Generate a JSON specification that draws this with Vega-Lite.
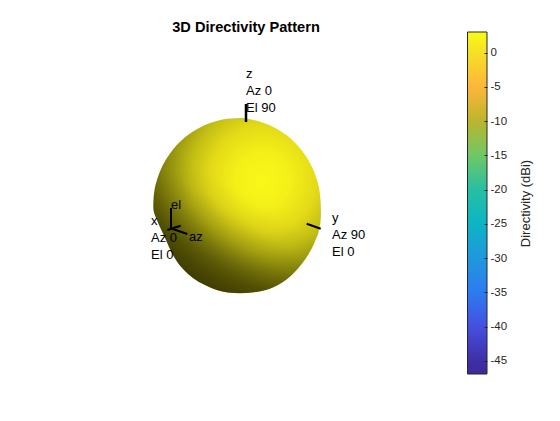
{
"$schema":"https://vega.github.io/schema/vega-lite/v6.json",
"width":560,"height":421,"padding":0,"autosize":"none",
"background":"white",
"title":{"text":"3D Directivity Pattern","font":"Liberation Sans","fontSize":14.6,"fontWeight":"bold","color":"#000000","anchor":"middle","dx":-34,"dy":35,"orient":"top","offset":0},
"config":{"view":{"stroke":null}},
"datasets":{
"outline":[
{"X":-0.837,"top":0.008,"bottom":-0.012},{"X":-0.835,"top":0.06,"bottom":-0.04},{"X":-0.825,"top":0.15,"bottom":-0.08},{"X":-0.803,"top":0.247,"bottom":-0.135},{"X":-0.77,"top":0.343,"bottom":-0.212},{"X":-0.71,"top":0.463,"bottom":-0.342},{"X":-0.67,"top":0.524,"bottom":-0.432},{"X":-0.603,"top":0.607,"bottom":-0.552},{"X":-0.52,"top":0.686,"bottom":-0.652},{"X":-0.44,"top":0.744,"bottom":-0.722},{"X":-0.32,"top":0.808,"bottom":-0.792},{"X":-0.203,"top":0.849,"bottom":-0.842},{"X":-0.09,"top":0.87,"bottom":-0.867},{"X":0.03,"top":0.875,"bottom":-0.875},{"X":0.15,"top":0.861,"bottom":-0.867},{"X":0.247,"top":0.836,"bottom":-0.852},{"X":0.41,"top":0.763,"bottom":-0.792},{"X":0.58,"top":0.631,"bottom":-0.659},{"X":0.71,"top":0.463,"bottom":-0.492},{"X":0.76,"top":0.367,"bottom":-0.402},{"X":0.79,"top":0.289,"bottom":-0.33},{"X":0.815,"top":0.2,"bottom":-0.265},{"X":0.828,"top":0.125,"bottom":-0.2},{"X":0.835,"top":0.04,"bottom":-0.15},{"X":0.837,"top":-0.05,"bottom":-0.1}],
"segments":[
{"name":"z","X":0.09,"X2":0.09,"Y":1.018,"Y2":0.838,"w":2.5},
{"name":"y","X":0.697,"X2":0.837,"Y":-0.179,"Y2":-0.229,"w":2},
{"name":"el","X":-0.66,"X2":-0.66,"Y":-0.022,"Y2":-0.232,"w":2},
{"name":"az","X":-0.663,"X2":-0.497,"Y":-0.225,"Y2":-0.282,"w":2},
{"name":"x","X":-0.697,"X2":-0.563,"Y":-0.242,"Y2":-0.199,"w":2}],
"labels":[
{"t":"z","X":0.09,"Y":1.318},{"t":"Az 0","X":0.09,"Y":1.148},{"t":"El 90","X":0.09,"Y":0.978},
{"t":"y","X":0.95,"Y":-0.122},{"t":"Az 90","X":0.95,"Y":-0.292},{"t":"El 0","X":0.95,"Y":-0.462},
{"t":"x","X":-0.86,"Y":-0.152},{"t":"Az 0","X":-0.86,"Y":-0.322},{"t":"El 0","X":-0.86,"Y":-0.492},
{"t":"el","X":-0.66,"Y":0.008},{"t":"az","X":-0.48,"Y":-0.312}],
"ticks":[
{"dBi":-45,"X":2.5},{"dBi":-40,"X":2.5},{"dBi":-35,"X":2.5},{"dBi":-30,"X":2.5},{"dBi":-25,"X":2.5},{"dBi":-20,"X":2.5},{"dBi":-15,"X":2.5},{"dBi":-10,"X":2.5},{"dBi":-5,"X":2.5},{"dBi":0,"X":2.5}]
},
"resolve":{"scale":{"y":"independent"}},
"layer":[
{"data":{"name":"outline"},
 "mark":{"type":"area","interpolate":"monotone","stroke":null,"fill":{"gradient":"radial","x1":0.64,"y1":0.36,"r1":0,"x2":0.667,"y2":0.324,"r2":0.76,"stops":[{"offset":0,"color":"#f8f818"},{"offset":0.2,"color":"#f4f018"},{"offset":0.4,"color":"#e4da18"},{"offset":0.55,"color":"#c4c014"},{"offset":0.7,"color":"#9c9a10"},{"offset":0.85,"color":"#787608"},{"offset":1,"color":"#605e08"}]}},
 "encoding":{"x":{"field":"X","type":"quantitative","scale":{"domain":[-2.37,3.23]},"axis":null},
  "y":{"field":"top","type":"quantitative","scale":{"domain":[-2.152,2.058]},"axis":null},
  "y2":{"field":"bottom"}}},
{"data":{"name":"outline"},
 "mark":{"type":"area","interpolate":"monotone","stroke":null,"fill":{"gradient":"linear","x1":0.625,"y1":0.408,"x2":0.3,"y2":0.93,"stops":[{"offset":0.1,"color":"rgba(40,36,0,0)"},{"offset":0.3,"color":"rgba(40,36,0,0.05)"},{"offset":0.5,"color":"rgba(40,36,0,0.2)"},{"offset":0.8,"color":"rgba(40,36,0,0.5)"},{"offset":1,"color":"rgba(40,36,0,0.62)"}]}},
 "encoding":{"x":{"field":"X","type":"quantitative","scale":{"domain":[-2.37,3.23]},"axis":null},
  "y":{"field":"top","type":"quantitative","scale":{"domain":[-2.152,2.058]},"axis":null},
  "y2":{"field":"bottom"}}},
{"data":{"name":"segments"},
 "mark":{"type":"rule","color":"#000000"},
 "encoding":{"x":{"field":"X","type":"quantitative","scale":{"domain":[-2.37,3.23]},"axis":null},"x2":{"field":"X2"},
  "y":{"field":"Y","type":"quantitative","scale":{"domain":[-2.152,2.058]},"axis":null},"y2":{"field":"Y2"},
  "strokeWidth":{"field":"w","type":"quantitative","scale":null},"detail":{"field":"name"}}},
{"data":{"name":"labels"},
 "mark":{"type":"text","align":"left","baseline":"middle","font":"Liberation Sans","fontSize":13,"color":"#000000"},
 "encoding":{"x":{"field":"X","type":"quantitative","scale":{"domain":[-2.37,3.23]},"axis":null},
  "y":{"field":"Y","type":"quantitative","scale":{"domain":[-2.152,2.058]},"axis":null},
  "text":{"field":"t"}}},
{"data":{"name":"ticks"},
 "mark":{"type":"point","filled":true,"opacity":0,"size":1},
 "encoding":{"x":{"field":"X","type":"quantitative","scale":{"domain":[-2.37,3.23]},"axis":null},
  "y":{"field":"dBi","type":"quantitative","scale":{"domain":[-46.9,3],"range":[374,32]},
   "axis":{"orient":"right","offset":-73,"zindex":2,"grid":false,"domain":false,"values":[-45,-40,-35,-30,-25,-20,-15,-10,-5,0],"tickSize":-3,"tickColor":"#262626","tickWidth":1,"labelPadding":6,"labelFont":"Liberation Sans","labelFontSize":11.5,"labelColor":"#262626","labelExpr":"replace(datum.label,'−','-')","labelOverlap":false,"labelBound":false,"labelFlush":false,
    "title":"Directivity (dBi)","titleFont":"Liberation Sans","titleFontSize":13,"titleFontWeight":"normal","titleColor":"#262626","titleAngle":270,"titleAlign":"center","titleBaseline":"middle","titleX":38,"titleY":203}},
  "fill":{"field":"dBi","type":"quantitative",
   "scale":{"domain":[-46.9,-45,-40,-35,-30,-25,-20,-15,-10,-5,0,3],"range":["#3b2a98","#3f2fa7","#4450df","#2d7bf0","#1f98dd","#0db4c4","#27bfa3","#6fc865","#bcb52c","#fdb63a","#f5e026","#f9fb15"]},
   "legend":{"orient":"none","legendX":467.5,"legendY":32,"direction":"vertical","type":"gradient","gradientLength":342,"gradientThickness":19.5,"gradientStrokeColor":"#262626","gradientStrokeWidth":1,"gradientOpacity":1,
    "values":[-45,0],"labelOpacity":0,"labelFontSize":1,
    "title":null}}}}
]}
